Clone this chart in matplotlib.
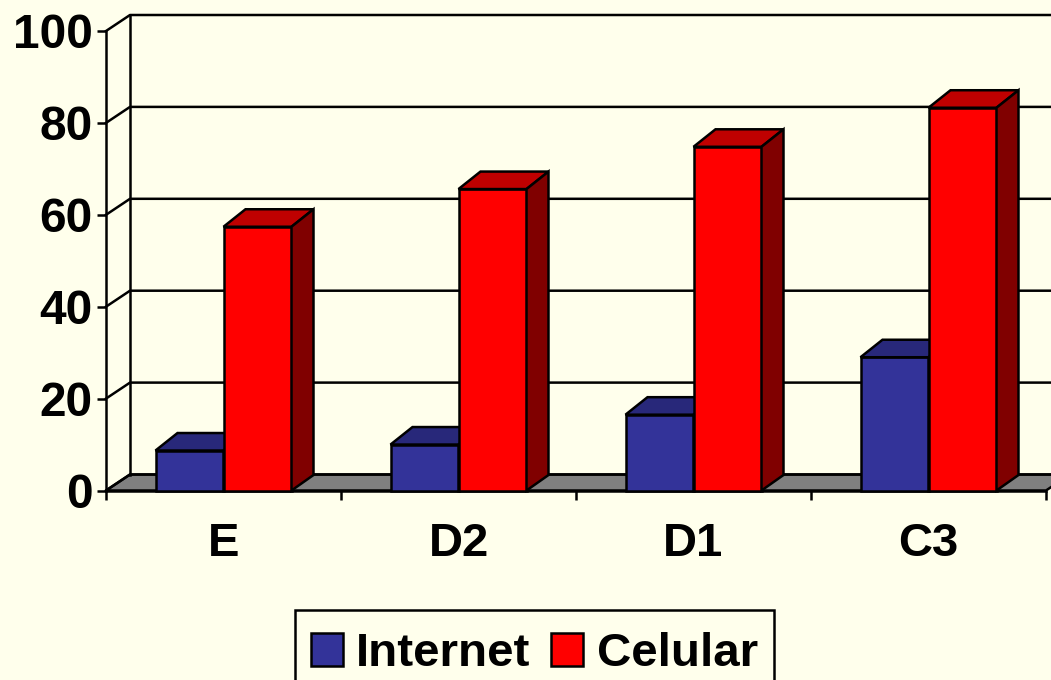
#!/usr/bin/env python3

import matplotlib
matplotlib.use('Agg')
import matplotlib.pyplot as plt
from matplotlib.patches import Patch, Rectangle

categories = ['E', 'D2', 'D1', 'C3']
internet = [8.7, 10.0, 16.5, 29.0]
celular = [57.4, 65.6, 74.8, 83.3]
y_ticks = [0, 20, 40, 60, 80, 100]

BG = '#FFFFEC'
LW = 1.8
FONT = 34.5

# one category is 235 px wide, one percent is 4.595 px high
PX_X = 1 / 235
PX_Y = 1 / 4.595
bar_w = 68 * PX_X
bar_dx, bar_dy = 22 * PX_X, 17.5 * PX_Y
wall_dx, wall_dy = 24 * PX_X, 16 * PX_Y
floor_dy = 15.5 * PX_Y

plt.rcParams['font.family'] = ['Liberation Sans']
plt.rcParams['font.weight'] = 'bold'

fig = plt.figure(figsize=(10.51, 6.8), dpi=100, facecolor=BG)
ax = fig.add_axes([0, 0, 1, 1], facecolor=BG)
ax.set_xlim(-106 * PX_X, 945 * PX_X)
ax.set_ylim(-189.5 * PX_Y, 490.5 * PX_Y)
n = len(categories)


def draw_bar(x, value, front, top, side):
    ax.bar(x, value, bar_w, align='edge', color=front, edgecolor='black', linewidth=LW, zorder=3)
    x2 = x + bar_w
    ax.fill([x, x2, x2 + bar_dx, x + bar_dx], [value, value, value + bar_dy, value + bar_dy],
            facecolor=top, edgecolor='black', linewidth=LW, zorder=3)
    ax.fill([x2, x2 + bar_dx, x2 + bar_dx, x2], [0, floor_dy, value + bar_dy, value],
            facecolor=side, edgecolor='black', linewidth=LW, zorder=3)


# floor and back walls
ax.fill([0, wall_dx, n + wall_dx, n], [0, wall_dy, wall_dy, 0],
        facecolor='#808080', edgecolor='black', linewidth=LW, zorder=1)
ax.plot([wall_dx, wall_dx], [wall_dy, 100 + wall_dy], color='black', lw=LW, zorder=1)
for v in y_ticks:
    ax.plot([0, wall_dx, n + wall_dx], [v, v + wall_dy, v + wall_dy], color='black', lw=LW, zorder=1)

for i in range(n):
    draw_bar(i + 0.5 - bar_w, internet[i], '#333399', '#28287A', '#1A1A4D')
    draw_bar(i + 0.5, celular[i], '#FF0000', '#BF0000', '#800000')

for name in ['top', 'right']:
    ax.spines[name].set_visible(False)
ax.spines['left'].set_position(('data', 0))
ax.spines['bottom'].set_position(('data', 0))
ax.spines['left'].set_bounds(0, 100)
ax.spines['bottom'].set_bounds(0, n)
ax.spines['left'].set_linewidth(LW)
ax.spines['bottom'].set_linewidth(LW)

ax.set_yticks(y_ticks)
ax.set_yticklabels([str(v) for v in y_ticks], fontsize=FONT)
ax.tick_params(axis='y', length=6.5, width=LW, pad=3)
ax.set_xticks(range(n + 1))
ax.set_xticklabels([''] * (n + 1))
ax.tick_params(axis='x', which='major', length=6.5, width=LW)
ax.set_xticks([i + 0.5 for i in range(n)], minor=True)
ax.set_xticklabels(categories, minor=True, fontsize=34)
ax.tick_params(axis='x', which='minor', length=0, pad=23)

# legend frame runs off the bottom edge, so it is drawn apart from the entries
fig.add_artist(Rectangle((295 / 1051, -0.05), 479 / 1051, 1 - 610 / 680 + 0.05, transform=fig.transFigure,
                         facecolor=BG, edgecolor='black', linewidth=LW))
handles = [Patch(facecolor='#333399', edgecolor='black', linewidth=LW, label='Internet'),
           Patch(facecolor='#FF0000', edgecolor='black', linewidth=LW, label='Celular')]
fig.legend(handles=handles, loc='upper left', bbox_to_anchor=(311 / 1051, 1 - 632 / 680),
           ncol=2, fontsize=34.2, frameon=False, borderaxespad=0, borderpad=0,
           handlelength=0.67, handleheight=0.67, handletextpad=0.28, columnspacing=0.44)

fig.savefig('out.png', dpi=100, facecolor=BG)
